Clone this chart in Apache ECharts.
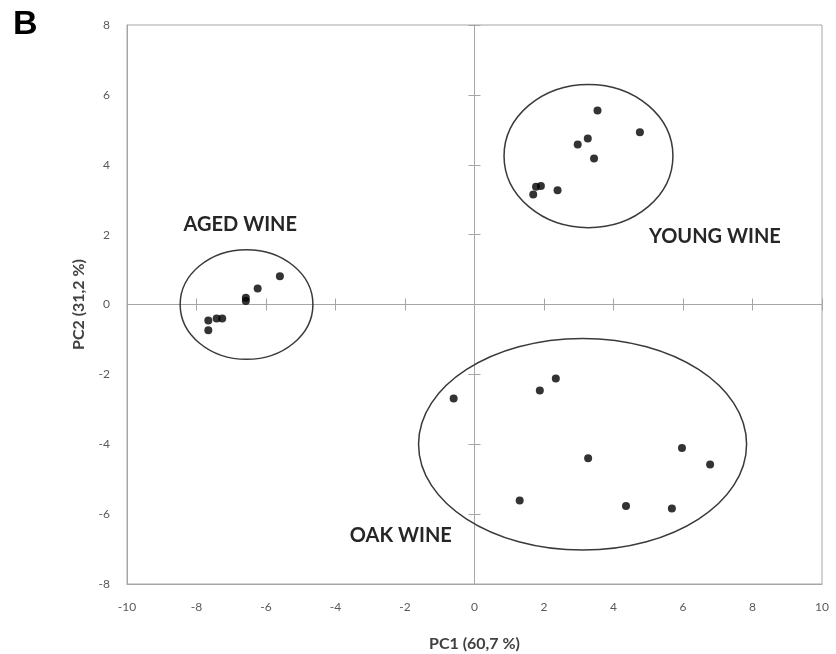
<!DOCTYPE html>
<html>
<head>
<meta charset="utf-8">
<script src="https://cdn.jsdelivr.net/npm/echarts@6/dist/echarts.min.js"></script>
<style>html,body{margin:0;padding:0;background:#fff;}#c{width:836px;height:654px;}</style>
</head>
<body>
<div id="c"></div>
<script>
// Data
var xTicks = {min: -10, max: 10, interval: 2};
var yTicks = {min: -8, max: 8, interval: 2};
var xTitle = 'PC1 (60,7 %)';
var yTitle = 'PC2 (31,2 %)';
var panelLetter = 'B';

var agedWine = [[-5.60,0.81],[-6.24,0.46],[-6.58,0.19],[-6.58,0.10],[-7.26,-0.40],[-7.42,-0.40],[-7.66,-0.46],[-7.66,-0.74]];
var youngWine = [[3.54,5.55],[4.76,4.93],[3.26,4.75],[2.97,4.58],[3.44,4.18],[1.91,3.39],[1.77,3.37],[1.69,3.15],[2.39,3.27]];
var oakWine = [[-0.60,-2.69],[1.88,-2.46],[2.34,-2.12],[3.27,-4.40],[5.97,-4.11],[6.78,-4.58],[1.30,-5.61],[4.36,-5.77],[5.68,-5.84]];

// group ellipses: [centerX, centerY, radiusX, radiusY] in data units
var groupEllipses = [[-6.56,0.0,1.91,1.57],[3.28,4.25,2.43,2.05],[3.11,-4.0,4.72,3.03]];
// group labels: [x, y, text]
var groupLabels = [[-6.74,2.29,'AGED WINE'],[6.92,1.95,'YOUNG WINE'],[-2.12,-6.61,'OAK WINE']];

var axisGray = '#a6a6a6';
var labelGray = '#595959';
var fontFam = 'Lato, "Open Sans", sans-serif';

function zeroAxis(dim, pos, inside, showLine) {
  var t = dim === 'x' ? xTicks : yTicks;
  return {
    type: 'value', min: t.min, max: t.max, interval: t.interval, position: pos,
    axisLine: {show: showLine, onZero: true, onZeroAxisIndex: 0, lineStyle: {color: axisGray, width: 1}},
    axisTick: {show: true, inside: inside, length: 6, lineStyle: {color: axisGray, width: 1}},
    axisLabel: {show: false}, splitLine: {show: false}
  };
}

var chart = echarts.init(document.getElementById('c'), null, {renderer: 'canvas'});
chart.setOption({
  animation: false,
  backgroundColor: '#fff',
  grid: {left: 127, right: 14, top: 25, bottom: 70, show: true, borderColor: axisGray, borderWidth: 1,
         containLabel: false, outerBoundsMode: 'none'},
  graphic: [{type: 'text', left: 13, top: 8, style: {text: panelLetter, font: 'bold 34px "Liberation Sans", Arial, sans-serif', fill: '#000'}}],
  xAxis: [
    {type: 'value', min: xTicks.min, max: xTicks.max, interval: xTicks.interval, position: 'bottom',
     axisLine: {show: true, onZero: false, lineStyle: {color: axisGray}}, axisTick: {show: false},
     axisLabel: {color: labelGray, fontSize: 12, margin: 17, fontFamily: fontFam}, splitLine: {show: false},
     name: xTitle, nameLocation: 'middle', nameGap: 52,
     nameTextStyle: {fontSize: 16, fontWeight: 'bold', color: '#404040', fontFamily: fontFam}},
    zeroAxis('x', 'bottom', false, true),
    zeroAxis('x', 'bottom', true, false)
  ],
  yAxis: [
    {type: 'value', min: yTicks.min, max: yTicks.max, interval: yTicks.interval, position: 'left',
     axisLine: {show: true, onZero: false, lineStyle: {color: axisGray}}, axisTick: {show: false},
     axisLabel: {color: labelGray, fontSize: 12, margin: 17, fontFamily: fontFam}, splitLine: {show: false},
     name: yTitle, nameLocation: 'middle', nameGap: 40, nameRotate: 90,
     nameTextStyle: {fontSize: 16, fontWeight: 'bold', color: '#404040', fontFamily: fontFam}},
    zeroAxis('y', 'left', false, true),
    zeroAxis('y', 'left', true, false)
  ],
  series: [
    {type: 'custom', xAxisIndex: 0, yAxisIndex: 0, data: groupEllipses, encode: {x: 0, y: 1}, z: 3,
     renderItem: function (params, api) {
       var c = api.coord([api.value(0), api.value(1)]);
       var s = api.size([api.value(2), api.value(3)]);
       return {type: 'ellipse', shape: {cx: c[0], cy: c[1], rx: s[0], ry: s[1]},
               style: {fill: 'none', stroke: '#3a3a3a', lineWidth: 1.5}};
     }},
    {type: 'custom', xAxisIndex: 0, yAxisIndex: 0, data: groupLabels, encode: {x: 0, y: 1}, z: 4,
     renderItem: function (params, api) {
       var c = api.coord([api.value(0), api.value(1)]);
       return {type: 'text', x: c[0], y: c[1],
               style: {text: groupLabels[params.dataIndex][2], textAlign: 'center', textVerticalAlign: 'middle',
                       font: 'bold 20px ' + fontFam, fill: '#262626'}};
     }},
    {name: 'Aged wine', type: 'scatter', data: agedWine, symbolSize: 8, itemStyle: {color: '#000'}, z: 5},
    {name: 'Young wine', type: 'scatter', data: youngWine, symbolSize: 8, itemStyle: {color: '#000'}, z: 5},
    {name: 'Oak wine', type: 'scatter', data: oakWine, symbolSize: 8, itemStyle: {color: '#000'}, z: 5}
  ]
});
</script>
</body>
</html>
